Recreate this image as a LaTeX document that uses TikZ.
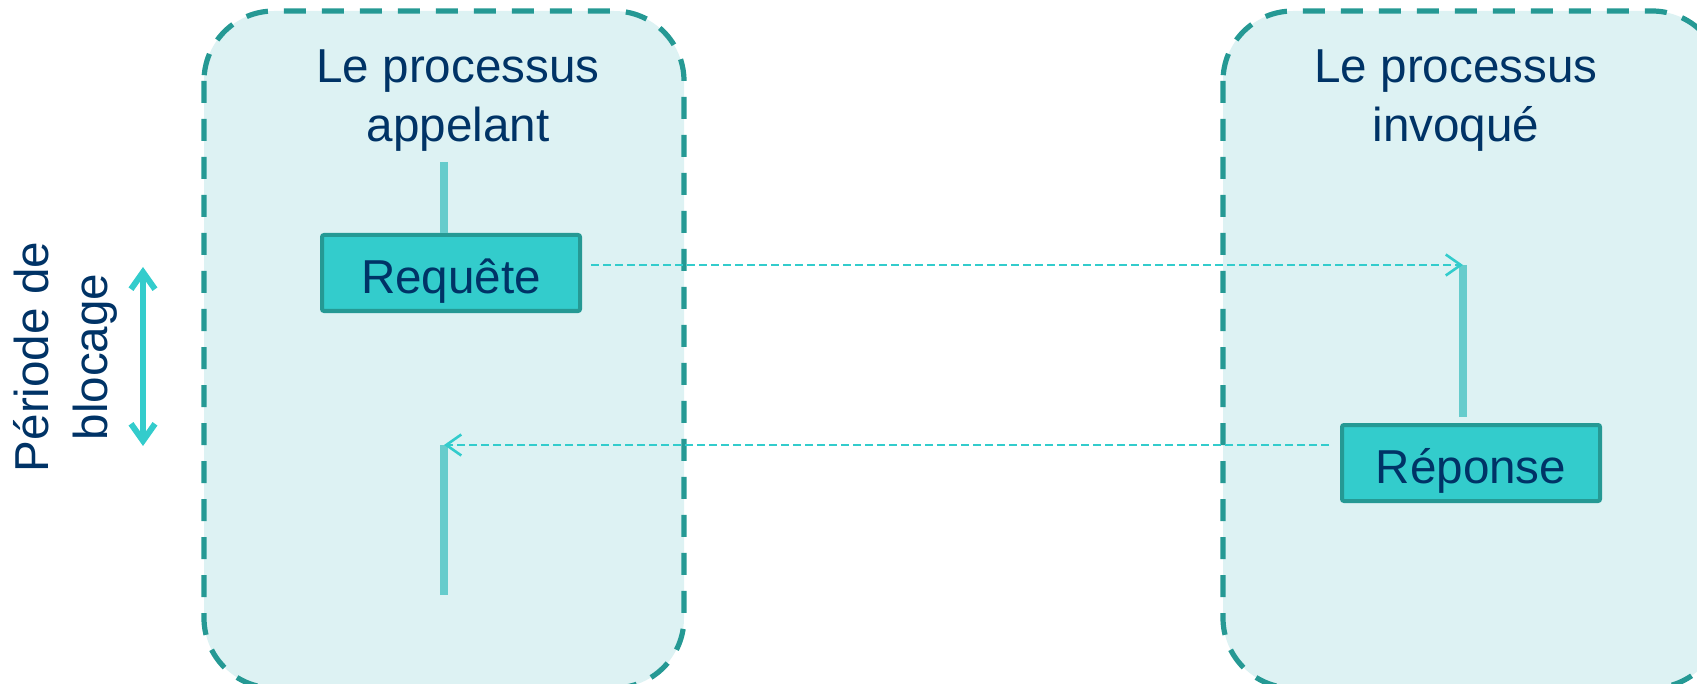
\documentclass[tikz,border=0pt]{standalone}
\usepackage{fontspec}
\setmainfont{Liberation Sans}
\usetikzlibrary{arrows.meta}
\definecolor{boxfill}{HTML}{DDF2F3}
\definecolor{boxline}{HTML}{259994}
\definecolor{msgfill}{HTML}{33CCCC}
\definecolor{lifeline}{HTML}{66CCCC}
\definecolor{txt}{HTML}{003366}
\begin{document}
\begin{tikzpicture}[x=0.5pt,y=-0.5pt,
  procbox/.style={draw=boxline,fill=boxfill,line width=2.6pt,rounded corners=35pt,dash pattern=on 11pt off 8pt},
  msgbox/.style={draw=boxline,fill=msgfill,line width=2pt,rounded corners=1pt,minimum width=129pt,minimum height=38pt,inner sep=0pt,text height=23pt,text depth=3pt,text=txt,font=\fontsize{23.8}{28}\selectfont},
  title/.style={text=txt,align=center,font=\fontsize{23.8}{29.5}\selectfont},
  life/.style={draw=lifeline,line width=4.3pt},
  msg/.style={draw=msgfill,line width=1.2pt,dash pattern=on 4pt off 2pt,-{Straight Barb[length=7.5pt,width=10.5pt,line width=1.3pt]}},
  block/.style={draw=msgfill,line width=3pt,{Straight Barb[length=8.5pt,width=12pt]}-{Straight Barb[length=8.5pt,width=12pt]}}]
\useasboundingbox (0,0) rectangle (1697,684);
\clip (0,0) rectangle (1697,684);
\path[procbox] (204,11) rectangle (684,688);
\path[procbox] (1223,11) rectangle (1722,688);
\node[title] (t1) at (458,101) {Le processus\\appelant};
\node[title] (t2) at (1456,101) {Le processus\\invoqué};
\node[msgbox] (req) at (451,273) {Requête};
\node[msgbox] (rep) at (1471,463) {Réponse};
\coordinate (l1a) at (444,162);
\coordinate (r1a) at (1463,265);
\coordinate (r1b) at (1463,417);
\coordinate (l2a) at (444,445);
\coordinate (l2b) at (444,595);
\coordinate (reqout) at (591,265);
\coordinate (repout) at (1329,445);
\draw[life] (l1a) -- (l1a |- req.north);
\draw[life] (r1a) -- (r1b);
\draw[life] (l2a) -- (l2b);
\draw[msg] (reqout) -- (r1a);
\draw[msg] (repout) -- (l2a);
\coordinate (ba) at (143,267);
\coordinate (bb) at (143,446);
\draw[block] (ba) -- (bb);
\node[title,rotate=90] (bl) at (65,357) {Période de\\blocage};
\end{tikzpicture}
\end{document}
